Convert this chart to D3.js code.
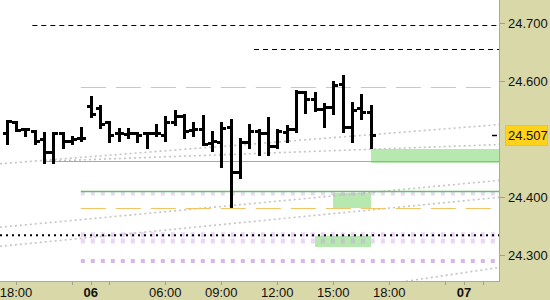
<!DOCTYPE html>
<html><head><meta charset="utf-8">
<script src="https://cdn.jsdelivr.net/npm/d3@7"></script>
<style>body{margin:0;background:#fff;}svg{display:block;}</style>
</head><body>
<svg id="c" width="550" height="300"></svg>
<script>
// ---------- data ----------
const times = ["17:30","18:00","18:30","19:00","19:30","20:00","20:30","21:00","21:30",
  "02:00","02:30","03:00","03:30","04:00","04:30","05:00","05:30","06:00","06:30","07:00",
  "07:30","08:00","08:30","09:00","09:30","10:00","10:30","11:00","11:30","12:00","12:30",
  "13:00","13:30","14:00","14:30","15:00","15:30","16:00","16:30","17:00"];
const opens  = [24.511,24.529,24.517,24.514,24.501,24.478,24.510,24.496,24.502,
  24.557,24.553,24.529,24.510,24.509,24.510,24.510,24.510,24.508,24.530,24.540,
  24.515,24.518,24.494,24.495,24.521,24.443,24.495,24.514,24.510,24.488,24.512,
  24.518,24.582,24.570,24.552,24.556,24.596,24.521,24.553,24.547];
const highs  = [24.531,24.529,24.517,24.514,24.510,24.511,24.511,24.504,24.520,
  24.573,24.557,24.530,24.518,24.517,24.511,24.511,24.524,24.538,24.548,24.541,
  24.528,24.540,24.512,24.528,24.533,24.501,24.524,24.515,24.536,24.515,24.522,
  24.583,24.582,24.579,24.561,24.598,24.609,24.563,24.576,24.557];
const lows   = [24.493,24.515,24.508,24.493,24.461,24.461,24.487,24.493,24.498,
  24.540,24.521,24.497,24.499,24.504,24.497,24.487,24.508,24.499,24.527,24.503,
  24.508,24.491,24.482,24.453,24.385,24.434,24.487,24.475,24.474,24.487,24.497,
  24.514,24.547,24.550,24.522,24.545,24.514,24.497,24.537,24.487];
const closes = [24.531,24.515,24.517,24.496,24.478,24.510,24.497,24.500,24.502,
  24.544,24.527,24.507,24.510,24.510,24.508,24.510,24.510,24.530,24.540,24.514,
  24.518,24.492,24.496,24.520,24.444,24.495,24.514,24.511,24.488,24.514,24.518,
  24.582,24.570,24.552,24.556,24.593,24.521,24.551,24.547,24.507];

const lastPrice = 24.507;
const lastLabel = "24.507";

// x ticks (slot index on the session axis)
const xTickSlots  = [1, 7, 9, 11, 17, 23, 29, 35, 41, 47, 49, 51];
const xTickLabels = ["18:00","","06","","06:00","09:00","12:00","15:00","18:00","","07",""];
const xTickBold   = [false,false,true,false,false,false,false,false,false,false,true,false];

// y ticks
const yTickValues = [24.7, 24.6, 24.4, 24.3];
const yTickLabels = ["24.700","24.600","24.400","24.300"];

// horizontal levels
const blackDashPrices = [24.697, 24.656];
const blackDashFrom   = [2.75, 26.5];
const orangeDashPrices = [24.590, 24.382];
const greenLinePrice = 24.410;
const grayLinePrice = 24.4615;
const grayLineFrom = 4;
const blackDotPrice = 24.334;
const lavLightPrices = [24.406, 24.335, 24.324];
const lavDarkPrices = [24.289];
const levelsFrom = 8;

// zones (slot from, slot to, price top, price bottom)
const zoneFrom = [39, 35, 33];
const zoneTo   = [60, 39, 39];
const zoneTop  = [24.483, 24.407, 24.332];
const zoneBot  = [24.459, 24.382, 24.313];

// trend lines (slot1, price1, slot2, price2)
const trendA = [-0.72, 24.4575, 52.86, 24.5252];
const trendB = [4, 24.4618, 52.86, 24.4907];
const trendC = [-0.72, 24.3479, 52.86, 24.4290];
const trendD = [-0.72, 24.3150, 52.86, 24.3997];
const trendE = [42.8, 24.2546, 52.86, 24.2788];
const trends = [trendA, trendB, trendC, trendD, trendE];

// ---------- layout ----------
const W = 550, H = 300, PR = 499, PB = 281;
const svg = d3.select("#c");
const x = d3.scaleLinear().domain([0, 51]).range([6.67, 6.67 + 51 * 9.333]);
const y = d3.scaleLinear().domain([24.3, 24.7]).range([255, 23.3]);

svg.append("defs").append("clipPath").attr("id","plot")
  .append("rect").attr("x",0).attr("y",0).attr("width",PR).attr("height",PB);
const g = svg.append("g").attr("clip-path","url(#plot)");

// zones
g.selectAll("rect.zone").data(zoneFrom).join("rect").attr("class","zone")
  .attr("x",(d,i)=>Math.round(x(d)))
  .attr("width",(d,i)=>Math.round(x(zoneTo[i]))-Math.round(x(d)))
  .attr("y",(d,i)=>Math.round(y(zoneTop[i])))
  .attr("height",(d,i)=>Math.round(y(zoneBot[i]))-Math.round(y(zoneTop[i])))
  .attr("fill","#b6e8b0");

// trend lines
g.selectAll("line.trend").data(trends).join("line")
  .attr("x1",d=>x(d[0])).attr("y1",d=>y(d[1]))
  .attr("x2",d=>x(d[2])).attr("y2",d=>y(d[3]))
  .attr("stroke","#c4c4c4").attr("stroke-width",1.6).attr("stroke-dasharray","2,3");

// lavender rows
lavLightPrices.forEach((p,k)=>{
  g.append("line").attr("x1",x(levelsFrom)-0.5).attr("x2",PR)
   .attr("y1",y(p)).attr("y2",y(p))
   .attr("stroke","#c896e6").attr("stroke-opacity",0.38)
   .attr("stroke-width",k===0?4:5).attr("stroke-dasharray","4,6");
});
lavDarkPrices.forEach(p=>{
  g.append("line").attr("x1",x(levelsFrom)-0.5).attr("x2",PR)
   .attr("y1",Math.round(y(p))).attr("y2",Math.round(y(p)))
   .attr("stroke","#c896e6").attr("stroke-opacity",0.7)
   .attr("stroke-width",4).attr("stroke-dasharray","4,6");
});

// gray solid
g.append("line").attr("x1",x(grayLineFrom)).attr("x2",PR)
  .attr("y1",Math.round(y(grayLinePrice))+0.5).attr("y2",Math.round(y(grayLinePrice))+0.5)
  .attr("stroke","#a8a8a8").attr("stroke-width",1);
// green solid
g.append("line").attr("x1",x(levelsFrom)-0.5).attr("x2",PR)
  .attr("y1",Math.round(y(greenLinePrice))+0.5).attr("y2",Math.round(y(greenLinePrice))+0.5)
  .attr("stroke","#62c062").attr("stroke-width",1.3);
// orange dashed
orangeDashPrices.forEach(p=>{
  g.append("line").attr("x1",x(levelsFrom)-0.5).attr("x2",PR)
   .attr("y1",Math.round(y(p))+0.5).attr("y2",Math.round(y(p))+0.5)
   .attr("stroke","#f2c466").attr("stroke-width",1).attr("stroke-dasharray","25,10");
});
// black dotted
g.append("line").attr("x1",0).attr("x2",PR)
  .attr("y1",y(blackDotPrice)).attr("y2",y(blackDotPrice))
  .attr("stroke","#000").attr("stroke-width",2).attr("stroke-dasharray","2,4");
// black dashed
blackDashPrices.forEach((p,k)=>{
  g.append("line").attr("x1",x(blackDashFrom[k])).attr("x2",PR)
   .attr("y1",Math.round(y(p))+0.5).attr("y2",Math.round(y(p))+0.5)
   .attr("stroke","#000").attr("stroke-width",1).attr("stroke-dasharray","5,4");
});

// OHLC bars
const bars = g.append("g");
times.forEach((t,i)=>{
  const xp = Math.round(x(i)) + 0.5;
  const yh = Math.round(y(highs[i])), yl = Math.round(y(lows[i]));
  const yo = Math.round(y(opens[i])) + 0.5, yc = Math.round(y(closes[i])) + 0.5;
  bars.append("line").attr("x1",xp).attr("x2",xp).attr("y1",yh-1).attr("y2",yl+2)
    .attr("stroke","#000").attr("stroke-width",3);
  bars.append("line").attr("x1",xp-4.5).attr("x2",xp).attr("y1",yo).attr("y2",yo)
    .attr("stroke","#000").attr("stroke-width",3);
  bars.append("line").attr("x1",xp).attr("x2",xp+4.5).attr("y1",yc).attr("y2",yc)
    .attr("stroke","#000").attr("stroke-width",3);
});

// last-price marker
svg.append("line").attr("x1",492).attr("x2",497)
  .attr("y1",Math.round(y(lastPrice))+0.5).attr("y2",Math.round(y(lastPrice))+0.5)
  .attr("stroke","#000").attr("stroke-width",1.5);

// axis bands
svg.append("rect").attr("x",PR).attr("y",0).attr("width",W-PR).attr("height",H).attr("fill","#d9d8a9");
svg.append("rect").attr("x",0).attr("y",PB).attr("width",W).attr("height",H-PB).attr("fill","#d9d8a9");
svg.append("line").attr("x1",PR+0.5).attr("x2",PR+0.5).attr("y1",0).attr("y2",PB+1)
  .attr("stroke","#a9a9a0").attr("stroke-width",1);
svg.append("line").attr("x1",0).attr("x2",PR+1).attr("y1",PB+0.5).attr("y2",PB+0.5)
  .attr("stroke","#a9a9a0").attr("stroke-width",1);

// y axis
const ya = svg.append("g");
yTickValues.forEach((v,k)=>{
  const yy = Math.round(y(v))+0.5;
  ya.append("line").attr("x1",PR+1).attr("x2",PR+6).attr("y1",yy).attr("y2",yy)
    .attr("stroke","#a0a090").attr("stroke-width",1);
  ya.append("text").attr("x",508).attr("y",y(v)).attr("dy","0.36em")
    .attr("font-family","Liberation Sans, Arial, sans-serif").attr("font-size",13)
    .attr("fill","#111").text(yTickLabels[k]);
});
// last price label
const ly = y(lastPrice);
ya.append("rect").attr("x",505.5).attr("y",Math.round(ly)-9.5).attr("width",42).attr("height",20)
  .attr("fill","#ffd21e").attr("stroke","#f0c030").attr("stroke-width",1);
ya.append("text").attr("x",508).attr("y",ly).attr("dy","0.36em")
  .attr("font-family","Liberation Sans, Arial, sans-serif").attr("font-size",13)
  .attr("fill","#111").text(lastLabel);

// x axis
const xa = svg.append("g");
xTickSlots.forEach((s,k)=>{
  const xx = Math.round(x(s))+0.5;
  xa.append("line").attr("x1",xx).attr("x2",xx).attr("y1",PB+1).attr("y2",PB+4)
    .attr("stroke","#a0a090").attr("stroke-width",1);
  if (xTickLabels[k]) {
    xa.append("text").attr("x",x(s)).attr("y",297).attr("text-anchor","middle")
      .attr("font-family","Liberation Sans, Arial, sans-serif").attr("font-size",13)
      .attr("font-weight",xTickBold[k]?"bold":"normal")
      .attr("fill","#111").text(xTickLabels[k]);
  }
});
</script>
</body></html>
